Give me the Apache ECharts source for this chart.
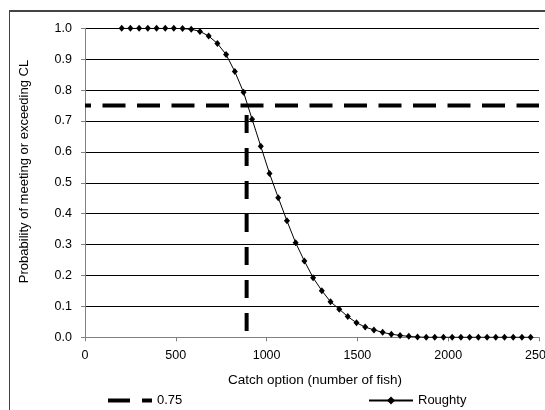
<!DOCTYPE html>
<html>
<head>
<meta charset="utf-8">
<script src="https://cdn.jsdelivr.net/npm/echarts@6/dist/echarts.min.js"></script>
<style>
html,body{margin:0;padding:0;background:#fff;}
#chart{width:545px;height:410px;}
</style>
</head>
<body>
<div id="chart"></div>
<script>
// Data
var catchOptions = [202, 250, 298, 346, 394, 442, 489, 537, 585, 633, 681, 729, 777, 825, 873, 920, 968, 1016, 1064, 1112, 1160, 1208, 1256, 1304, 1352, 1400, 1447, 1495, 1543, 1591, 1639, 1687, 1735, 1783, 1831, 1879, 1926, 1974, 2022, 2070, 2118, 2166, 2214, 2262, 2310, 2358, 2406, 2454];
var roughtyProb = [1.0, 1.0, 1.0, 1.0, 1.0, 1.0, 1.0, 0.999, 0.997, 0.99, 0.975, 0.951, 0.915, 0.86, 0.793, 0.706, 0.618, 0.53, 0.452, 0.377, 0.306, 0.247, 0.193, 0.151, 0.115, 0.091, 0.067, 0.047, 0.033, 0.024, 0.016, 0.010, 0.006, 0.003, 0.001, 0.0, 0.0, 0.0, 0.0, 0.0, 0.0, 0.0, 0.0, 0.0, 0.0, 0.0, 0.0, 0.0];
var thresholdX = [0, 2500];
var thresholdY = [0.75, 0.75];
var crossX = [890, 890];
var crossY = [0.75, 0.0];
var xTitle = 'Catch option (number of fish)';
var yTitle = 'Probability of meeting or exceeding CL';
var seriesNames = ['0.75', 'Roughty'];

function pairs(xs, ys) { return xs.map(function (x, i) { return [x, ys[i]]; }); }

var FONT = '"Liberation Sans", Arial, sans-serif';
var chart = echarts.init(document.getElementById('chart'), null, {renderer: 'canvas'});
chart.setOption({
  animation: false,
  backgroundColor: '#fff',
  grid: {left: 85, right: 6, top: 28.3, bottom: 72.7, containLabel: false, outerBoundsMode: 'none'},
  xAxis: {
    type: 'value', min: 0, max: 2500, interval: 500,
    axisLine: {show: true, lineStyle: {color: '#808080', width: 1}},
    axisTick: {show: true, inside: false, length: 4, lineStyle: {color: '#808080'}},
    axisLabel: {color: '#000', fontFamily: FONT, fontSize: 12.5, margin: 12,
      formatter: function (v) { return String(v); }},
    splitLine: {show: false}
  },
  yAxis: {
    type: 'value', min: 0, max: 1, interval: 0.1,
    axisLine: {show: true, lineStyle: {color: '#808080', width: 1}},
    axisTick: {show: true, inside: false, length: 4, lineStyle: {color: '#808080'}},
    axisLabel: {color: '#000', fontFamily: FONT, fontSize: 12.5, margin: 13,
      formatter: function (v) { return v.toFixed(1); }},
    splitLine: {show: true, lineStyle: {color: '#000', width: 1}}
  },
  legend: [
    {data: [{name: seriesNames[0], icon: 'path://M0 0H22V4H0Z M34 0H44V4H34Z'}], left: 108, top: 394, padding: 0, itemWidth: 44, itemHeight: 4,
     itemStyle: {color: '#000'},
     textStyle: {color: '#000', fontFamily: FONT, fontSize: 13}},
    {data: [seriesNames[1]], left: 368, top: 394, padding: 0, itemWidth: 44, itemHeight: 10,
     textStyle: {color: '#000', fontFamily: FONT, fontSize: 13}}
  ],
  graphic: [
    {type: 'line', shape: {x1: 9, y1: 11, x2: 560, y2: 11}, style: {stroke: '#444', lineWidth: 2}, z: 100},
    {type: 'line', shape: {x1: 9.5, y1: 11, x2: 9.5, y2: 420}, style: {stroke: '#444', lineWidth: 1}, z: 100},
    {type: 'text', x: 315, y: 380, style: {text: xTitle, fill: '#000', font: '13.5px ' + FONT, textAlign: 'center', textVerticalAlign: 'middle'}},
    {type: 'text', x: 24.5, y: 171.5, rotation: Math.PI / 2, style: {text: yTitle, fill: '#000', font: '13px ' + FONT, textAlign: 'center', textVerticalAlign: 'middle'}}
  ],
  series: [
    {name: seriesNames[0], type: 'line', data: pairs(thresholdX, thresholdY), symbol: 'none', silent: true, z: 3,
     lineStyle: {color: '#000', width: 4, type: [23, 11.5], dashOffset: 17, cap: 'butt'}, itemStyle: {color: '#000'}},
    {name: 'cross', type: 'line', data: pairs(crossX, crossY), symbol: 'none', silent: true, z: 3,
     lineStyle: {color: '#000', width: 4, type: [18, 15], dashOffset: 23.5, cap: 'butt'}},
    {name: seriesNames[1], type: 'line', data: pairs(catchOptions, roughtyProb), symbol: 'diamond', symbolSize: [6, 7], z: 4,
     showSymbol: true, lineStyle: {color: '#000', width: 1}, itemStyle: {color: '#000'}}
  ]
});
</script>
</body>
</html>
